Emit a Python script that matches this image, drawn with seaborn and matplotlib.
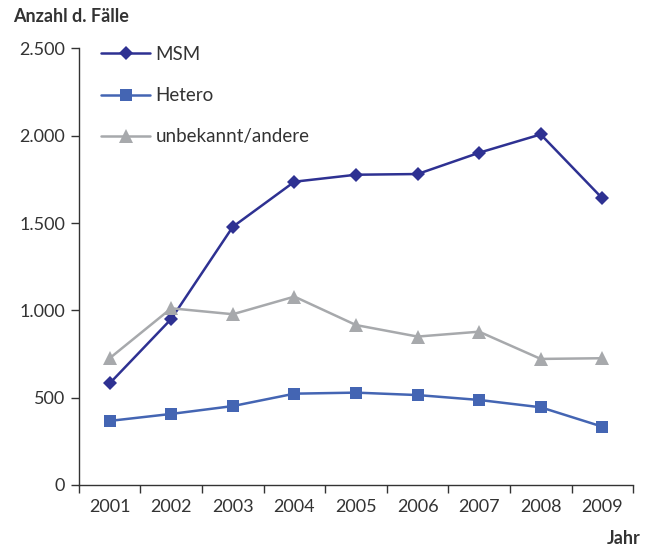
import matplotlib.pyplot as plt
import matplotlib.ticker as mticker
import pandas as pd
import seaborn as sns

# data
years = [2001, 2002, 2003, 2004, 2005, 2006, 2007, 2008, 2009]
msm = [582, 951, 1479, 1737, 1777, 1781, 1903, 2008, 1642]
hetero = [367, 407, 452, 523, 529, 515, 487, 445, 334]
unbekannt = [726, 1012, 978, 1079, 916, 850, 878, 722, 726]
groups = ['MSM', 'Hetero', 'unbekannt/andere']

df = pd.DataFrame({
    'Jahr': years * 3,
    'Fälle': msm + hetero + unbekannt,
    'Gruppe': [g for g in groups for _ in years],
})

sns.set_style('white')
plt.rcParams['font.family'] = ['Lato', 'DejaVu Sans']

fig = plt.figure(figsize=(6.52, 5.48), dpi=100)
ax = fig.add_axes([0.121, 0.115, 0.850, 0.7965])

colors = {'MSM': '#2e3192', 'Hetero': '#4465b3', 'unbekannt/andere': '#a7a9ac'}
markers = {'MSM': 'D', 'Hetero': 's', 'unbekannt/andere': '^'}
msizes = {'D': 7.5, 's': 8.5, '^': 9.5}

sns.lineplot(data=df, x='Jahr', y='Fälle', hue='Gruppe', style='Gruppe',
             palette=colors, markers=markers, dashes=False, linewidth=1.8,
             markersize=9, markeredgewidth=0, ax=ax, legend=True)
for ln in ax.lines:
    m = ln.get_marker()
    if m in msizes:
        ln.set_markersize(msizes[m])

ax.set_xlim(2000.5, 2009.5)
ax.set_ylim(0, 2500)
ax.yaxis.set_major_locator(mticker.MultipleLocator(500))
ax.yaxis.set_major_formatter(
    mticker.FuncFormatter(lambda v, p: f'{int(v):,}'.replace(',', '.')))
ax.set_xticks(years)
ax.set_xticks([y - 0.5 for y in years] + [2009.5], minor=True)
ax.tick_params(axis='x', which='major', length=0, pad=10,
               labelsize=13, labelcolor='#333333')
ax.tick_params(axis='x', which='minor', length=6, width=1, color='#333333',
               direction='out')
ax.tick_params(axis='y', length=6, width=1, color='#333333', direction='out',
               labelsize=13, labelcolor='#333333', pad=4)
ax.xaxis.set_ticks_position('bottom')
ax.yaxis.set_ticks_position('left')

sns.despine(ax=ax)
for side in ['left', 'bottom']:
    ax.spines[side].set_color('#333333')
    ax.spines[side].set_linewidth(1)

ax.set_xlabel('')
ax.set_ylabel('')

handles, labels = ax.get_legend_handles_labels()
for h in handles:
    m = h.get_marker()
    if m in msizes:
        h.set_markersize(msizes[m])
ax.legend(handles, labels, loc='upper left', bbox_to_anchor=(0.01, 1.045),
          frameon=False, fontsize=13.5, handlelength=2.6, labelspacing=1.3,
          handletextpad=0.3, labelcolor='#333333')

fig.text(0.02, 0.97, 'Anzahl d. Fälle', fontsize=13, fontweight='bold',
         color='#333333', ha='left', va='center')
fig.text(0.983, 0.018, 'Jahr', fontsize=13, fontweight='bold',
         color='#333333', ha='right', va='center')

fig.savefig('out.png', dpi=100)
